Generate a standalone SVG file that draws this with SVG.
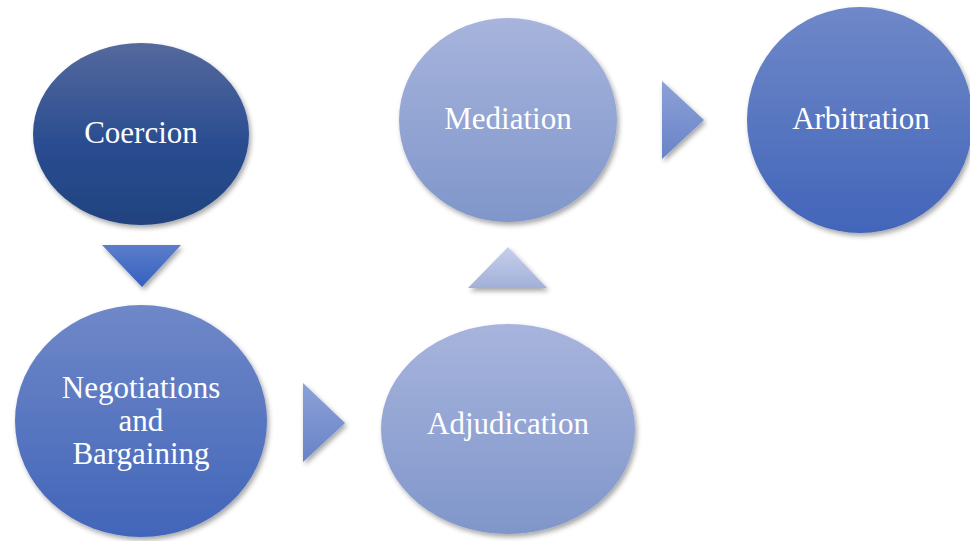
<svg xmlns="http://www.w3.org/2000/svg" width="970" height="541" viewBox="0 0 970 541">
<defs>
<linearGradient id="gDark" x1="0" y1="0" x2="0" y2="1"><stop offset="0" stop-color="#55699d"/><stop offset="0.55" stop-color="#2a4d91"/><stop offset="1" stop-color="#21427f"/></linearGradient>
<linearGradient id="gMid" x1="0" y1="0" x2="0" y2="1"><stop offset="0" stop-color="#6f88c8"/><stop offset="1" stop-color="#4265b9"/></linearGradient>
<linearGradient id="gLight" x1="0" y1="0" x2="0" y2="1"><stop offset="0" stop-color="#a7b4dd"/><stop offset="1" stop-color="#8096ca"/></linearGradient>
<linearGradient id="gDown" x1="0" y1="0" x2="0" y2="1"><stop offset="0" stop-color="#5b7ecc"/><stop offset="1" stop-color="#3660c0"/></linearGradient>
<linearGradient id="gRight" x1="0" y1="0" x2="0" y2="1"><stop offset="0" stop-color="#8ba1d7"/><stop offset="1" stop-color="#6983c7"/></linearGradient>
<linearGradient id="gUp" x1="0" y1="0" x2="0" y2="1"><stop offset="0" stop-color="#c6d0eb"/><stop offset="1" stop-color="#a2b0d9"/></linearGradient>
<filter id="sh" x="-20%" y="-20%" width="140%" height="140%"><feDropShadow dx="2" dy="3" stdDeviation="2.5" flood-color="#000" flood-opacity="0.35"/></filter>
</defs>
<style>
.lbl{font-family:"Liberation Serif","Times New Roman",serif;font-size:31px;fill:#ffffff;text-anchor:middle}
</style>
<rect width="970" height="541" fill="#ffffff"/>
<g id="connectors">
<polygon points="102,245 181,245 142,287" fill="url(#gDown)" filter="url(#sh)"/>
<polygon points="303,383 345,423 303,462" fill="url(#gRight)" filter="url(#sh)"/>
<polygon points="468,288 508,247 547,288" fill="url(#gUp)" filter="url(#sh)"/>
<polygon points="662,81 704,120 662,159" fill="url(#gRight)" filter="url(#sh)"/>
</g>
<g id="coercion">
<ellipse cx="141" cy="134" rx="108" ry="91" fill="url(#gDark)" filter="url(#sh)"/>
<text class="lbl" x="141" y="143">Coercion</text>
</g>
<g id="negotiations">
<ellipse cx="141" cy="421" rx="126" ry="116" fill="url(#gMid)" filter="url(#sh)"/>
<text class="lbl" x="141" y="398">Negotiations</text>
<text class="lbl" x="141" y="431">and</text>
<text class="lbl" x="141" y="464">Bargaining</text>
</g>
<g id="adjudication">
<ellipse cx="508" cy="429" rx="127" ry="105" fill="url(#gLight)" filter="url(#sh)"/>
<text class="lbl" x="508" y="434">Adjudication</text>
</g>
<g id="mediation">
<ellipse cx="508" cy="120" rx="109" ry="102" fill="url(#gLight)" filter="url(#sh)"/>
<text class="lbl" x="508" y="129">Mediation</text>
</g>
<g id="arbitration">
<ellipse cx="860" cy="120" rx="113" ry="113" fill="url(#gMid)" filter="url(#sh)"/>
<text class="lbl" x="861" y="129">Arbitration</text>
</g>
</svg>
